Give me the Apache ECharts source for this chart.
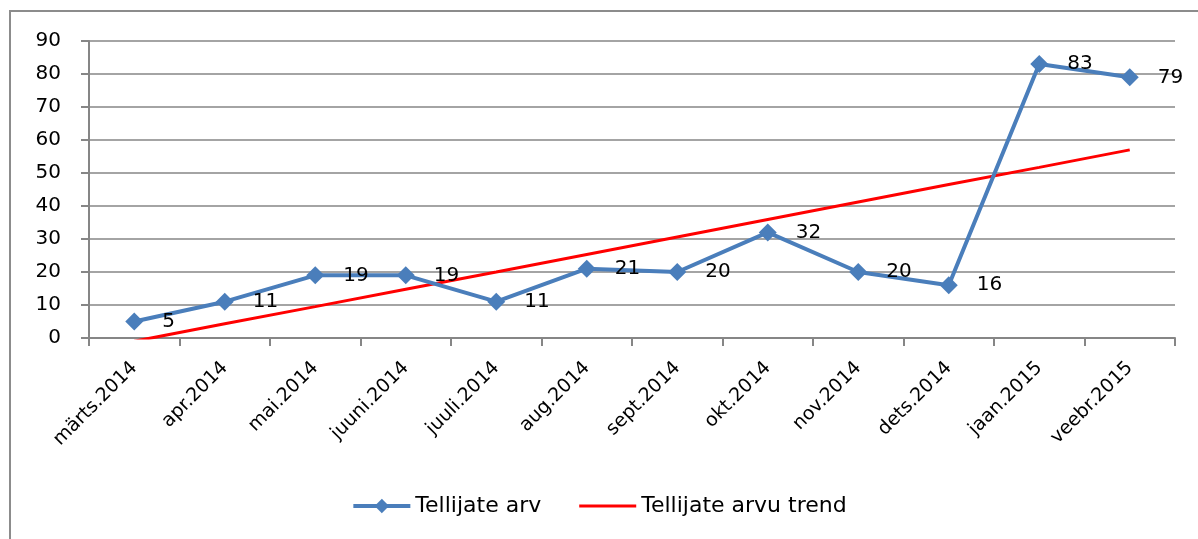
<!DOCTYPE html>
<html>
<head>
<meta charset="utf-8">
<script src="https://cdn.jsdelivr.net/npm/echarts@6/dist/echarts.min.js"></script>
<style>
html, body { margin: 0; padding: 0; background: #fff; }
#main { width: 1198px; height: 539px; }
</style>
</head>
<body>
<div id="main"></div>
<script>
// kuud
const months = ['märts.2014', 'apr.2014', 'mai.2014', 'juuni.2014', 'juuli.2014', 'aug.2014',
  'sept.2014', 'okt.2014', 'nov.2014', 'dets.2014', 'jaan.2015', 'veebr.2015']
// tellijate arv
const subscribers = [5, 11, 19, 19, 11, 21, 20, 32, 20, 16, 83, 79]
// trendijoon (loetud pildilt)
const trend = [-1, 4.3, 9.5, 14.8, 20, 25.3, 30.6, 35.9, 41.2, 46.5, 51.7, 57]

const chart = echarts.init(document.getElementById('main'))
const font = 'DejaVu Sans'

const option = {
  animation: false,
  textStyle: { fontFamily: font },
  graphic: [{
    type: 'rect',
    shape: { x: 10, y: 11, width: 1200, height: 540 },
    style: { fill: 'none', stroke: '#8c8c8c', lineWidth: 2 }
  }],
  grid: { left: 89, right: 23, top: 41, bottom: 201 },
  legend: {
    bottom: 17,
    left: 'center',
    itemWidth: 57,
    itemHeight: 18,
    itemGap: 38,
    textStyle: { fontFamily: font, fontSize: 22, color: '#000' },
    data: [
      { name: 'Tellijate arv', lineStyle: { width: 4 } },
      { name: 'Tellijate arvu trend', icon: 'path://M0,0 L57,0 L57,3 L0,3 Z' }
    ]
  },
  xAxis: {
    type: 'category',
    data: months,
    boundaryGap: true,
    axisLine: { lineStyle: { color: '#868686', width: 2 } },
    axisTick: { show: true, length: 8, alignWithLabel: false, lineStyle: { color: '#868686', width: 2 } },
    axisLabel: { rotate: 45, fontSize: 19, color: '#000', margin: 27, interval: 0 }
  },
  yAxis: {
    type: 'value',
    min: 0,
    max: 90,
    interval: 10,
    axisLine: { show: true, lineStyle: { color: '#868686', width: 2 } },
    axisTick: { show: true, length: 8, lineStyle: { color: '#868686', width: 2 } },
    splitLine: { lineStyle: { color: '#868686', width: 1.5 } },
    axisLabel: { fontSize: 20, color: '#000', margin: 28 }
  },
  series: [
    {
      name: 'Tellijate arv',
      type: 'line',
      data: subscribers,
      symbol: 'diamond',
      symbolSize: 18,
      lineStyle: { color: '#4a7ebb', width: 4 },
      itemStyle: { color: '#4a7ebb' },
      label: { show: true, position: 'right', distance: 19, fontSize: 20, color: '#000', fontFamily: font },
      z: 3
    },
    {
      name: 'Tellijate arvu trend',
      type: 'line',
      data: trend,
      symbol: 'none',
      clip: true,
      lineStyle: { color: '#ff0000', width: 3 },
      itemStyle: { color: '#ff0000' },
      z: 2
    }
  ]
}
chart.setOption(option)
</script>
</body>
</html>
